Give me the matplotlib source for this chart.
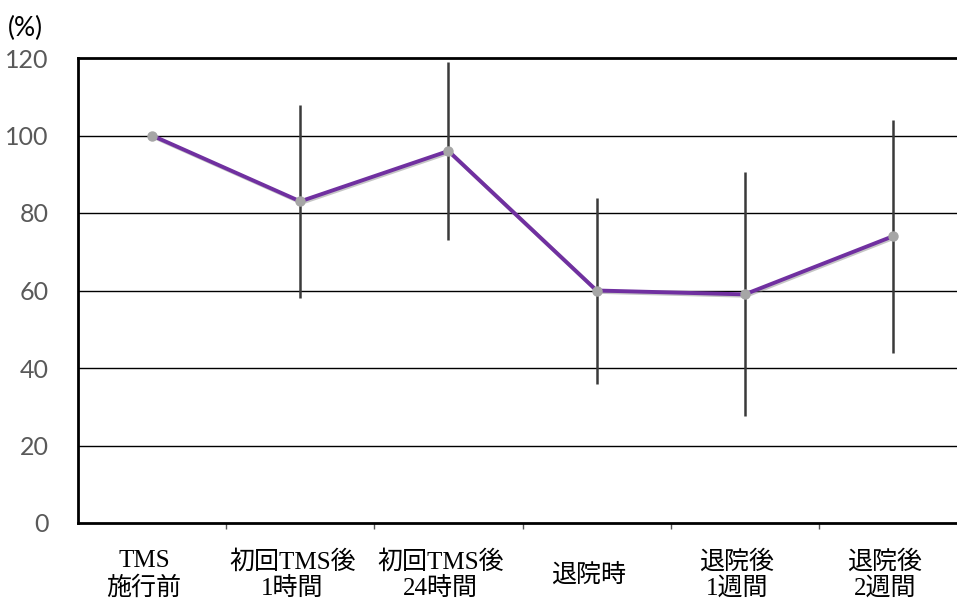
import matplotlib
matplotlib.use("Agg")
import matplotlib.pyplot as plt
import matplotlib.patheffects as pe
import matplotlib.transforms as mtransforms
import numpy as np

categories = ["TMS\n施行前", "初回TMS後\n1時間", "初回TMS後\n24時間", "退院時", "退院後\n1週間", "退院後\n2週間"]
values = [100, 83, 96, 60, 59, 74]
errors = [0, 25, 23, 24, 31.5, 30]
y_ticks = [0, 20, 40, 60, 80, 100, 120]
y_unit = "(%)"

fig = plt.figure(figsize=(9.57, 6.01), dpi=100)
ax = fig.add_axes([78/957, (601-523)/601, (967-78)/957, (523-58)/601])

x = np.arange(len(categories))

for yv in y_ticks[1:-1]:
    ax.axhline(yv, color="black", lw=1.0, zorder=1)

ax.errorbar(x[1:], values[1:], yerr=errors[1:], fmt="none", ecolor="#3a3a3a",
            elinewidth=1.8, capsize=0, zorder=2)
ax.plot(x, values, color="#7030A0", lw=2.8, zorder=3, solid_capstyle="round",
        path_effects=[pe.SimpleLineShadow(offset=(1.0, -1.0), shadow_color="gray", alpha=0.45), pe.Normal()])
ax.plot(x, values, linestyle="none", marker="o", markersize=6.5, markerfacecolor="#A6A6A6",
        markeredgecolor="#A6A6A6", zorder=4)

ax.set_xlim(-0.5, len(categories) - 0.5)
ax.set_ylim(0, 120)

for s in ["left", "bottom", "top"]:
    ax.spines[s].set_linewidth(2.0)
    ax.spines[s].set_color("black")
ax.spines["right"].set_visible(False)

ax.set_yticks(y_ticks)
ax.set_yticklabels([str(v) for v in y_ticks], fontfamily="Lato", fontsize=18, color="#595959")
ax.tick_params(axis="y", length=0, pad=21)

ax.set_xticks(np.arange(len(categories)) + 0.5)
ax.set_xticklabels([])
ax.tick_params(axis="x", which="major", length=4, width=1, color="#555555", direction="out")

lab_tr = ax.get_xaxis_transform() + mtransforms.ScaledTranslation(-8/100, -52/100, fig.dpi_scale_trans)
for xi, cat in zip(x, categories):
    ax.text(xi, 0, cat, transform=lab_tr, ha="center", va="center", multialignment="center",
            fontfamily=["Liberation Serif", "Noto Sans CJK JP"], fontsize=18, linespacing=1.2,
            color="black", clip_on=False)

fig.text(8/957, 1 - 28/601, y_unit, fontfamily="Lato", fontsize=19, color="black",
         ha="left", va="center")

fig.savefig("out.png", dpi=100)
